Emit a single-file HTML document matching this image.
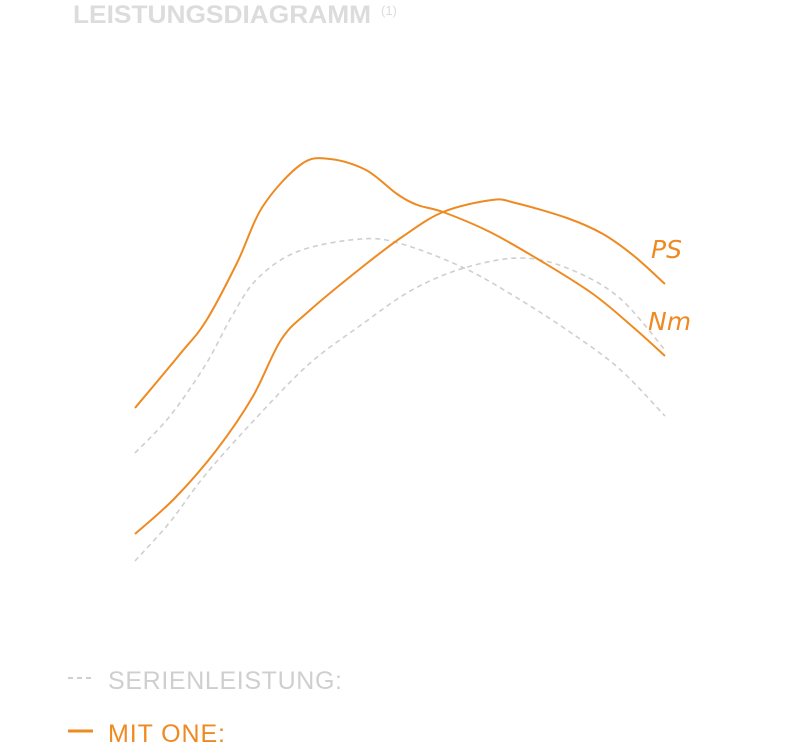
<!DOCTYPE html>
<html><head><meta charset="utf-8"><style>
html,body{margin:0;padding:0;background:#fff;width:805px;height:746px;overflow:hidden}
svg{display:block}
</style></head><body>
<svg width="805" height="746" id="chart">
<text x="73" y="23" font-family="Liberation Sans, sans-serif" font-weight="bold" font-size="25" fill="#dcdcdc" textLength="298" lengthAdjust="spacingAndGlyphs">LEISTUNGSDIAGRAMM</text>
<text x="381" y="15" font-family="Liberation Sans, sans-serif" font-size="13" fill="#dcdcdc">(1)</text>
<g id="series"></g>
<text x="651" y="258" font-family="DejaVu Sans, sans-serif" font-style="italic" font-size="25" fill="#ef8a22">PS</text>
<text x="648" y="330" font-family="DejaVu Sans, sans-serif" font-style="italic" font-size="25" fill="#ef8a22">Nm</text>
<g>
<line x1="68" y1="678" x2="93" y2="678" stroke="#cfcfcf" stroke-width="2" stroke-dasharray="5,4"/>
<text x="108" y="689" font-family="Liberation Sans, sans-serif" font-size="25" fill="#cfcfcf" textLength="234">SERIENLEISTUNG:</text>
<line x1="68" y1="731" x2="93" y2="731" stroke="#ef8a22" stroke-width="3"/>
<text x="108" y="742" font-family="Liberation Sans, sans-serif" font-size="25" fill="#ef8a22" textLength="117">MIT ONE:</text>
</g>
</svg>
<script>
const oneNmRpm = [1000,1425,1670,1962,2208,2571,2840,3179,3472,3665,3906,4349,4830,5321,5708,6000];
const oneNmVal = [192,246,279,337,394,436,441,430,406,395,388,368,339,306,272,244];
const onePsRpm = [1000,1377,1769,2109,2377,2642,3132,3519,3906,4368,4590,5075,5415,5708,6000];
const onePsVal = [66,102,150,203,260,289,332,363,388,400,397,382,366,344,316];
const serNmRpm = [1000,1330,1670,1915,2160,2547,3132,3519,4104,4590,5075,5561,6000];
const serNmVal = [147,184,236,284,322,349,361,356,332,303,270,232,184];
const serPsRpm = [1000,1330,1670,2160,2642,3132,3613,4104,4632,5075,5561,6000];
const serPsVal = [39,78,126,184,236,275,310,332,342,332,303,250];

function xScale(r){return 135+(r-1000)*0.106;}
function yScale(v){return 600-v;}
function pathFrom(xs,vs){
  const p=xs.map((r,i)=>[xScale(r),yScale(vs[i])]);
  let d='M'+p[0][0]+','+p[0][1];
  for(let i=0;i<p.length-1;i++){
    const p0=p[i-1]||p[i],p1=p[i],p2=p[i+1],p3=p[i+2]||p2;
    const c1=[p1[0]+(p2[0]-p0[0])/6,p1[1]+(p2[1]-p0[1])/6];
    const c2=[p2[0]-(p3[0]-p1[0])/6,p2[1]-(p3[1]-p1[1])/6];
    d+=' C'+c1[0]+','+c1[1]+' '+c2[0]+','+c2[1]+' '+p2[0]+','+p2[1];
  }
  return d;
}
const g=document.getElementById('series');
function add(xs,vs,color,dash,name,w){
  const el=document.createElementNS('http://www.w3.org/2000/svg','path');
  el.setAttribute('d',pathFrom(xs,vs));
  el.setAttribute('fill','none');
  el.setAttribute('stroke',color);
  el.setAttribute('stroke-width',w);
  if(dash)el.setAttribute('stroke-dasharray',dash);
  
  
  g.appendChild(el);
}
add(serNmRpm,serNmVal,'#cfcfcf','5,4','serial-nm-line',1.6);
add(serPsRpm,serPsVal,'#cfcfcf','5,4','serial-ps-line',1.6);
add(oneNmRpm,oneNmVal,'#ef8a22',null,'one-nm-line',2);
add(onePsRpm,onePsVal,'#ef8a22',null,'one-ps-line',2);
</script>
</body></html>
